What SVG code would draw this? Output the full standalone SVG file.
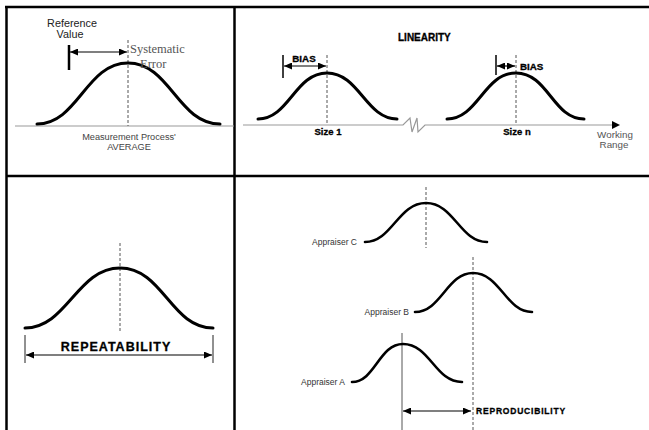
<svg xmlns="http://www.w3.org/2000/svg" width="649" height="430" viewBox="0 0 649 430">
<style>
.frame{stroke:#000;stroke-width:2.5;fill:none}
.curve{fill:none;stroke:#000;stroke-width:3;stroke-linecap:round}
.curve2{fill:none;stroke:#000;stroke-width:2.6;stroke-linecap:round}
.dash{stroke:#555;stroke-width:1;stroke-dasharray:3,2;fill:none}
.base{stroke:#999;stroke-width:1.2;fill:none}
.arr{stroke:#000;stroke-width:1.2;fill:none;marker-start:url(#ah);marker-end:url(#ah)}
.sans{font-family:"Liberation Sans",Arial,sans-serif}
.bold{font-family:"Liberation Sans",Arial,sans-serif;font-weight:bold;stroke:#000;stroke-width:0.3}
</style>
<defs>
<marker id="ah" markerUnits="userSpaceOnUse" markerWidth="8" markerHeight="7" refX="8" refY="3.5" orient="auto-start-reverse">
<path d="M0,0 L8,3.5 L0,7 z" fill="#000"/>
</marker>
</defs>
<rect width="649" height="430" fill="#fff"/>
<g id="frame">
<line class="frame" x1="5" y1="7" x2="649" y2="7"/>
<line class="frame" x1="6.5" y1="6" x2="6.5" y2="430"/>
<line class="frame" x1="234.5" y1="6" x2="234.5" y2="430"/>
<line class="frame" x1="6" y1="176" x2="649" y2="176"/>
</g>
<g id="bias-panel">
<line class="base" x1="15" y1="126" x2="234" y2="126"/>
<line class="dash" x1="128" y1="40" x2="128" y2="126"/>
<path class="curve" d="M37,124 C78,124 86,63 128,63 C170,63 178,124 220,124"/>
<line x1="69" y1="45" x2="69" y2="70" stroke="#000" stroke-width="2.5"/>
<line class="arr" x1="70" y1="52" x2="127" y2="52"/>
<text class="sans" x="72" y="27" font-size="10.8" text-anchor="middle" fill="#222">Reference</text>
<text class="sans" x="70" y="38" font-size="10.8" text-anchor="middle" fill="#222">Value</text>
<text x="130" y="53" font-family="'Liberation Serif','Times New Roman',serif" font-size="12.5" fill="#555">Systematic</text>
<text x="140" y="68" font-family="'Liberation Serif','Times New Roman',serif" font-size="12.5" fill="#555">Error</text>
<text class="sans" x="129" y="140" font-size="9.2" text-anchor="middle" fill="#444">Measurement Process'</text>
<text class="sans" x="129" y="150" font-size="9.2" text-anchor="middle" fill="#444">AVERAGE</text>
</g>
<g id="linearity-panel">
<text class="bold" x="398" y="41" font-size="10">LINEARITY</text>
<polyline class="base" points="243,125 403,125 410,118 412,132 417,118 418,132 425,125 614,125"/>
<path d="M612,121 L620,125 L612,129 z" fill="#000"/>
<line class="dash" x1="327" y1="55" x2="327" y2="125"/>
<line class="dash" x1="516" y1="55" x2="516" y2="125"/>
<path class="curve" d="M258,119 C289,119 295,73 327,73 C359,73 366,119 397,119"/>
<path class="curve" d="M447,119 C478,119 484,73 516,73 C548,73 553,119 584,119"/>
<line x1="283" y1="55" x2="283" y2="78" stroke="#000" stroke-width="1.5"/>
<line class="arr" x1="284" y1="66" x2="326" y2="66"/>
<text class="bold" x="304" y="62" font-size="9.8" text-anchor="middle">BIAS</text>
<line x1="496" y1="55" x2="496" y2="75" stroke="#000" stroke-width="1.5"/>
<line class="arr" x1="497" y1="66" x2="515" y2="66"/>
<text class="bold" x="520" y="70" font-size="9.8">BIAS</text>
<text class="bold" x="328" y="135" font-size="9.5" text-anchor="middle" stroke-width="0.15">Size 1</text>
<text class="bold" x="517" y="135" font-size="9.5" text-anchor="middle" stroke-width="0.15">Size n</text>
<text class="sans" x="615" y="138" font-size="9.8" text-anchor="middle" fill="#555">Working</text>
<text class="sans" x="614" y="148" font-size="9.8" text-anchor="middle" fill="#555">Range</text>
</g>
<g id="repeatability-panel">
<line class="dash" x1="120" y1="243" x2="120" y2="332"/>
<path class="curve" d="M25,328 C67,328 77,268 120,268 C163,268 171,328 213,328"/>
<line x1="25" y1="335" x2="25" y2="363" stroke="#222" stroke-width="1"/>
<line x1="213" y1="335" x2="213" y2="363" stroke="#222" stroke-width="1"/>
<line class="arr" x1="26" y1="355" x2="212" y2="355"/>
<text class="bold" x="116" y="351" font-size="12.5" letter-spacing="1" stroke-width="0.6" text-anchor="middle">REPEATABILITY</text>
</g>
<g id="reproducibility-panel">
<line class="dash" x1="426" y1="187" x2="426" y2="248"/>
<line class="dash" x1="473" y1="257" x2="473" y2="430"/>
<line x1="402" y1="333" x2="402" y2="430" stroke="#555" stroke-width="1"/>
<path class="curve2" d="M365,242 C392,242 398,203 426,203 C454,203 460,242 487,242"/>
<path class="curve2" d="M415,312 C441,312 447,273 473,273 C500,273 506,312 532,312"/>
<path class="curve2" d="M352,382 C375,382 379,344 403,344 C430,344 435,382 462,382"/>
<text class="sans" x="357" y="245" font-size="8.5" text-anchor="end" fill="#333">Appraiser C</text>
<text class="sans" x="409" y="315" font-size="8.5" text-anchor="end" fill="#333">Appraiser B</text>
<text class="sans" x="345" y="385" font-size="8.5" text-anchor="end" fill="#333">Appraiser A</text>
<line class="arr" x1="403" y1="411" x2="471" y2="411"/>
<text class="bold" x="476" y="414" font-size="8.5" letter-spacing="0.8">REPRODUCIBILITY</text>
</g>
</svg>
